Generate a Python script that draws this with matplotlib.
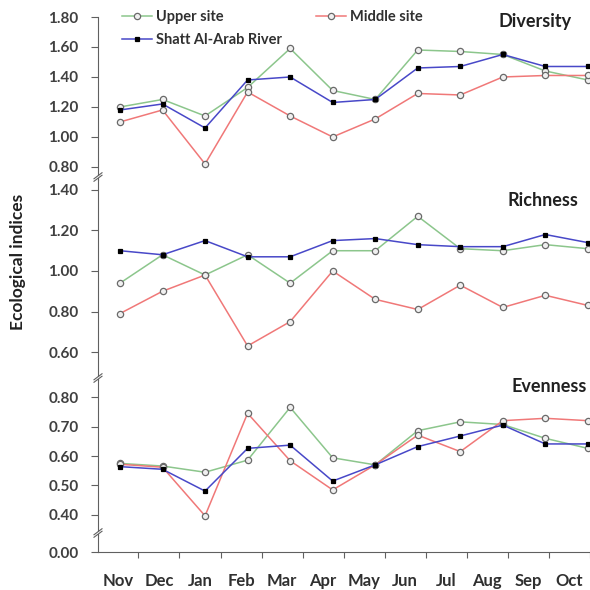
import matplotlib.pyplot as plt
from matplotlib.lines import Line2D
from matplotlib.patches import Rectangle

plt.rcParams['font.family'] = ['Lato', 'DejaVu Sans']
plt.rcParams['font.weight'] = 'bold'

months = ['Nov', 'Dec', 'Jan', 'Feb', 'Mar', 'Apr', 'May', 'Jun', 'Jul', 'Aug', 'Sep', 'Oct']
series_names = ['Upper site', 'Middle site', 'Shatt Al-Arab River']

# Diversity
div_upper = [1.20, 1.25, 1.14, 1.33, 1.59, 1.31, 1.25, 1.58, 1.57, 1.55, 1.44, 1.38]
div_middle = [1.10, 1.18, 0.82, 1.30, 1.14, 1.00, 1.12, 1.29, 1.28, 1.40, 1.41, 1.41]
div_river = [1.18, 1.22, 1.06, 1.38, 1.40, 1.23, 1.25, 1.46, 1.47, 1.55, 1.47, 1.47]

# Richness
ric_upper = [0.94, 1.08, 0.98, 1.08, 0.94, 1.10, 1.10, 1.27, 1.11, 1.10, 1.13, 1.11]
ric_middle = [0.79, 0.90, 0.98, 0.63, 0.75, 1.00, 0.86, 0.81, 0.93, 0.82, 0.88, 0.83]
ric_river = [1.10, 1.08, 1.15, 1.07, 1.07, 1.15, 1.16, 1.13, 1.12, 1.12, 1.18, 1.14]

# Evenness
eve_upper = [0.575, 0.566, 0.545, 0.586, 0.765, 0.594, 0.570, 0.686, 0.716, 0.707, 0.660, 0.626]
eve_middle = [0.572, 0.562, 0.397, 0.745, 0.584, 0.485, 0.570, 0.671, 0.615, 0.720, 0.728, 0.720]
eve_river = [0.564, 0.555, 0.481, 0.626, 0.637, 0.515, 0.570, 0.632, 0.668, 0.705, 0.641, 0.641]

panels = [
    ('Diversity', [div_upper, div_middle, div_river], (0.713, 1.80), [0.80, 1.00, 1.20, 1.40, 1.60, 1.80]),
    ('Richness', [ric_upper, ric_middle, ric_river], (0.462, 1.449), [0.60, 0.80, 1.00, 1.20, 1.40]),
    ('Evenness', [eve_upper, eve_middle, eve_river], (0.332, 0.858), [0.40, 0.50, 0.60, 0.70, 0.80]),
]

line_colors = ['#8cc68c', '#f07878', '#4848c8']
face_colors = ['#f0f0f0', '#f0f0f0', 'black']
edge_colors = ['#6a6a6a', '#6a6a6a', 'black']
markers = ['o', 'o', 's']
msizes = [4.5, 4.5, 3.5]
tick_color = '#404040'

W = 590.0
fig = plt.figure(figsize=(5.9, 5.9), dpi=100)
L = 98 / W
R = 1.0


def box(top_px, bot_px):
    return [L, 1 - bot_px / W, R - L, (bot_px - top_px) / W]


bounds = [(17, 180), (180, 380), (380, 535)]
x = list(range(len(months)))
axes = []
for (title, data, ylim, yticks), (t, b) in zip(panels, bounds):
    ax = fig.add_axes(box(t, b))
    for k, ys in enumerate(data):
        ax.plot(x, ys, color=line_colors[k], lw=1.1, marker=markers[k], ms=msizes[k],
                mfc=face_colors[k], mec=edge_colors[k], mew=0.9, clip_on=False,
                label=series_names[k], zorder=3 + k)
    ax.set_xlim(-0.517, 11.05)
    ax.set_ylim(*ylim)
    ax.set_yticks(yticks)
    ax.set_yticklabels([f'{v:.2f}' for v in yticks])
    ax.set_xticks([])
    for s in ['top', 'right', 'bottom']:
        ax.spines[s].set_visible(False)
    ax.spines['left'].set_color('#606060')
    ax.tick_params(axis='y', direction='out', length=5, width=0.8, color='#606060',
                   pad=9, labelsize=11, labelcolor=tick_color)
    ax.patch.set_alpha(0)
    axes.append(ax)

# bottom strip with the 0.00 level and month axis
ax4 = fig.add_axes(box(535, 552))
ax4.set_ylim(0, 0.058)
ax4.set_yticks([0.0])
ax4.set_yticklabels(['0.00'])
ax4.set_xlim(-0.484, 11.44)
ax4.set_xticks(x)
ax4.set_xticklabels(months)
ax4.set_xticks([i - 0.5 for i in range(1, 13)], minor=True)
ax4.tick_params(axis='x', which='major', length=0, pad=15, labelsize=12, labelcolor='#303030')
ax4.tick_params(axis='x', which='minor', direction='out', length=4, width=0.8, color='#606060')
ax4.tick_params(axis='y', direction='out', length=5, width=0.8, color='#606060',
                pad=9, labelsize=11, labelcolor=tick_color)
for s in ['top', 'right']:
    ax4.spines[s].set_visible(False)
ax4.spines['left'].set_color('#606060')
ax4.spines['bottom'].set_color('#606060')
ax4.patch.set_alpha(0)

# axis break marks on the left spine
for yb in [177, 378, 533]:
    yc = 1 - yb / W
    dx, dy, gap = 4 / W, 3 / W, 2.5 / W
    fig.add_artist(Rectangle((L - 2 / W, yc - gap / 2), 4 / W, gap, transform=fig.transFigure,
                             facecolor='white', edgecolor='none', zorder=10))
    for off in (-gap / 2, gap / 2):
        fig.add_artist(Line2D([L - dx, L + dx], [yc + off - dy, yc + off + dy],
                              transform=fig.transFigure, color='#606060', lw=0.8, zorder=11))

# panel titles
fig.text(572 / W, 1 - 22 / W, 'Diversity', ha='right', va='center', fontsize=13, color='#202020')
fig.text(578 / W, 1 - 200 / W, 'Richness', ha='right', va='center', fontsize=13, color='#202020')
fig.text(587 / W, 1 - 387 / W, 'Evenness', ha='right', va='center', fontsize=13, color='#202020')

fig.text(18 / W, 1 - 262 / W, 'Ecological indices', rotation=90, ha='center', va='center',
         fontsize=12.5, color='#202020')

h, lab = axes[0].get_legend_handles_labels()
axes[0].legend([h[0], h[2], h[1]], [lab[0], lab[2], lab[1]], ncol=2, frameon=False,
               loc='upper left', bbox_to_anchor=(122 / W, 1 - 10 / W),
               bbox_transform=fig.transFigure, fontsize=10.5, borderpad=0, borderaxespad=0,
               handlelength=2.05, handletextpad=0.3, columnspacing=2.3, labelspacing=0.6,
               labelcolor='#303030')

fig.savefig('out.png', dpi=100)
